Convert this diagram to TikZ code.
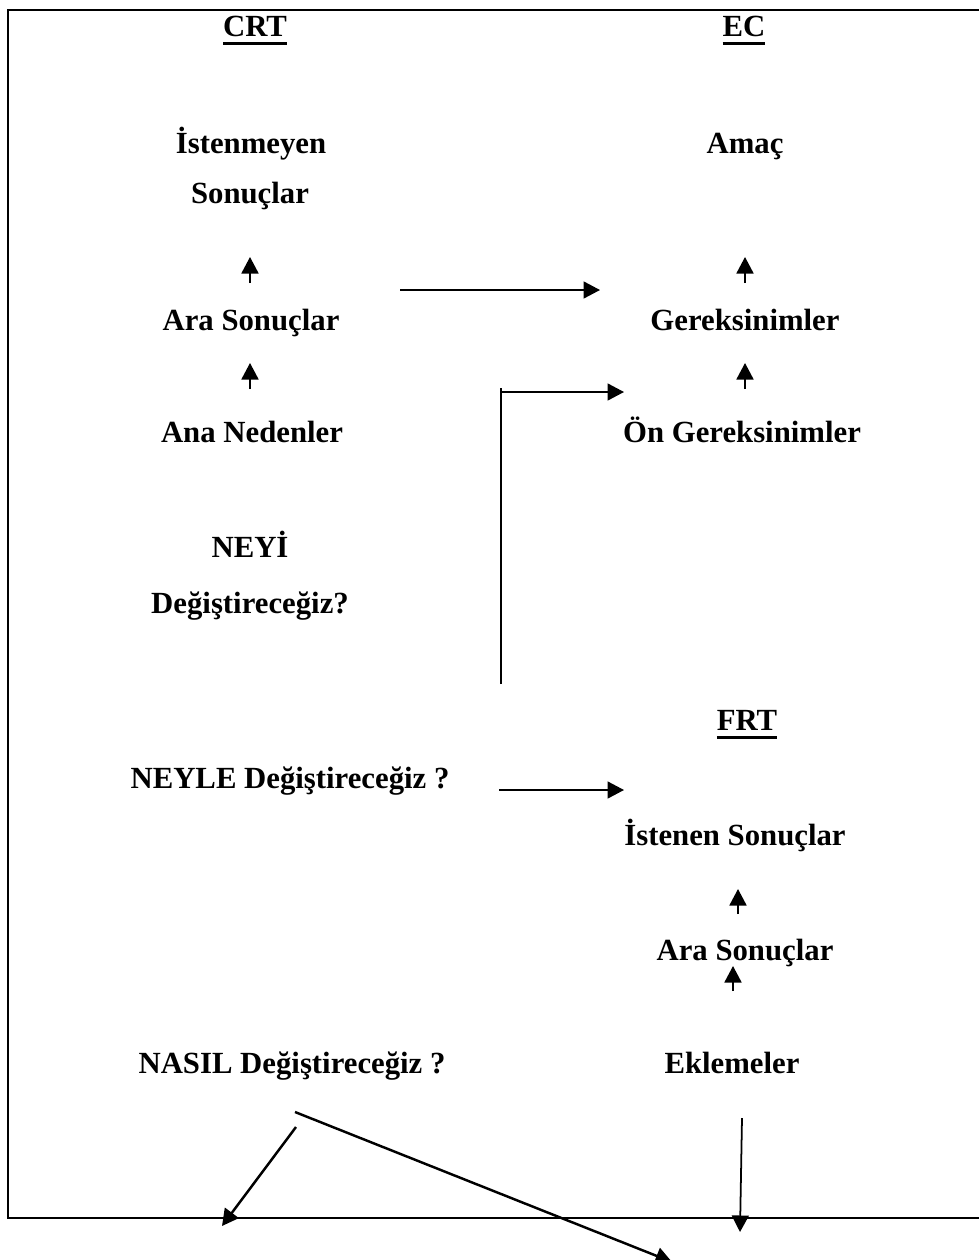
\documentclass[tikz,border=0pt]{standalone}
\usepackage{fontspec}
\setmainfont{Liberation Serif}
\usetikzlibrary{arrows.meta}
\newcommand\titleline[1]{\vtop{\hbox{#1}\kern3.2pt\hrule height1.7pt}}
\begin{document}
\begin{tikzpicture}[x=0.2mm,y=-0.2mm,>={Triangle[length=3.3mm,width=3.4mm]},
  every node/.style={font=\bfseries\fontsize{17.5}{21}\selectfont,anchor=base,inner sep=0pt},
  link/.style={->,line width=1pt},
  slant/.style={->,line width=1.4pt}]
\useasboundingbox (0,0) rectangle (979,1260);
\draw[line width=1.5pt] (990,10) -- (8,10) -- (8,1218) -- (990,1218);
% left column
\coordinate (CRT) at (255,36);
\coordinate (C1) at (251,153);
\coordinate (C2) at (250,203);
\coordinate (C3) at (251,330);
\coordinate (C4) at (252,442);
\coordinate (C5) at (250,557);
\coordinate (C6) at (250,613);
\coordinate (C7) at (290,788);
\coordinate (C8) at (292,1073);
% right column
\coordinate (EC) at (744,36);
\coordinate (E1) at (745,153);
\coordinate (E2) at (745,330);
\coordinate (E3) at (742,442);
\coordinate (FRT) at (747,730);
\coordinate (F1) at (735,845);
\coordinate (F2) at (745,960);
\coordinate (F3) at (732,1073);
% arrow ends
\coordinate (U1s) at (250,283);
\coordinate (U1e) at (250,257);
\coordinate (U2s) at (250,389);
\coordinate (U2e) at (250,363);
\coordinate (U3s) at (745,283);
\coordinate (U3e) at (745,257);
\coordinate (U4s) at (745,389);
\coordinate (U4e) at (745,363);
\coordinate (U5s) at (738,914);
\coordinate (U5e) at (738,889);
\coordinate (U6s) at (733,991);
\coordinate (U6e) at (733,966);
\coordinate (H1s) at (400,290);
\coordinate (H1e) at (600,290);
\coordinate (K1) at (501,684);
\coordinate (K2) at (501,388);
\coordinate (K3) at (501,392);
\coordinate (K4) at (624,392);
\coordinate (H2s) at (499,790);
\coordinate (H2e) at (624,790);
\coordinate (D1s) at (296,1127);
\coordinate (D1e) at (222,1226);
\coordinate (D2s) at (295,1112);
\coordinate (D2e) at (672,1262);
\coordinate (V1s) at (742,1118);
\coordinate (V1e) at (740,1232);
\node at (CRT) {\titleline{CRT}};
\node at (C1) {İstenmeyen};
\node at (C2) {Sonuçlar};
\draw[link] (U1s) -- (U1e);
\node at (C3) {Ara Sonuçlar};
\draw[link] (U2s) -- (U2e);
\node at (C4) {Ana Nedenler};
\node at (C5) {NEYİ};
\node at (C6) {Değiştireceğiz?};
\draw[link] (H1s) -- (H1e);
\node at (EC) {\titleline{EC}};
\node at (E1) {Amaç};
\draw[link] (U3s) -- (U3e);
\node at (E2) {Gereksinimler};
\draw[link] (U4s) -- (U4e);
\node at (E3) {Ön Gereksinimler};
\draw[line width=1pt] (K1) -- (K2);
\draw[link] (K3) -- (K4);
\node at (FRT) {\titleline{FRT}};
\node at (C7) {NEYLE Değiştireceğiz ?};
\draw[link] (H2s) -- (H2e);
\node at (F1) {İstenen Sonuçlar};
\draw[link] (U5s) -- (U5e);
\node at (F2) {Ara Sonuçlar};
\draw[link] (U6s) -- (U6e);
\node at (C8) {NASIL Değiştireceğiz ?};
\node at (F3) {Eklemeler};
\draw[slant] (D1s) -- (D1e);
\draw[slant] (D2s) -- (D2e);
\draw[link] (V1s) -- (V1e);
\end{tikzpicture}
\end{document}
